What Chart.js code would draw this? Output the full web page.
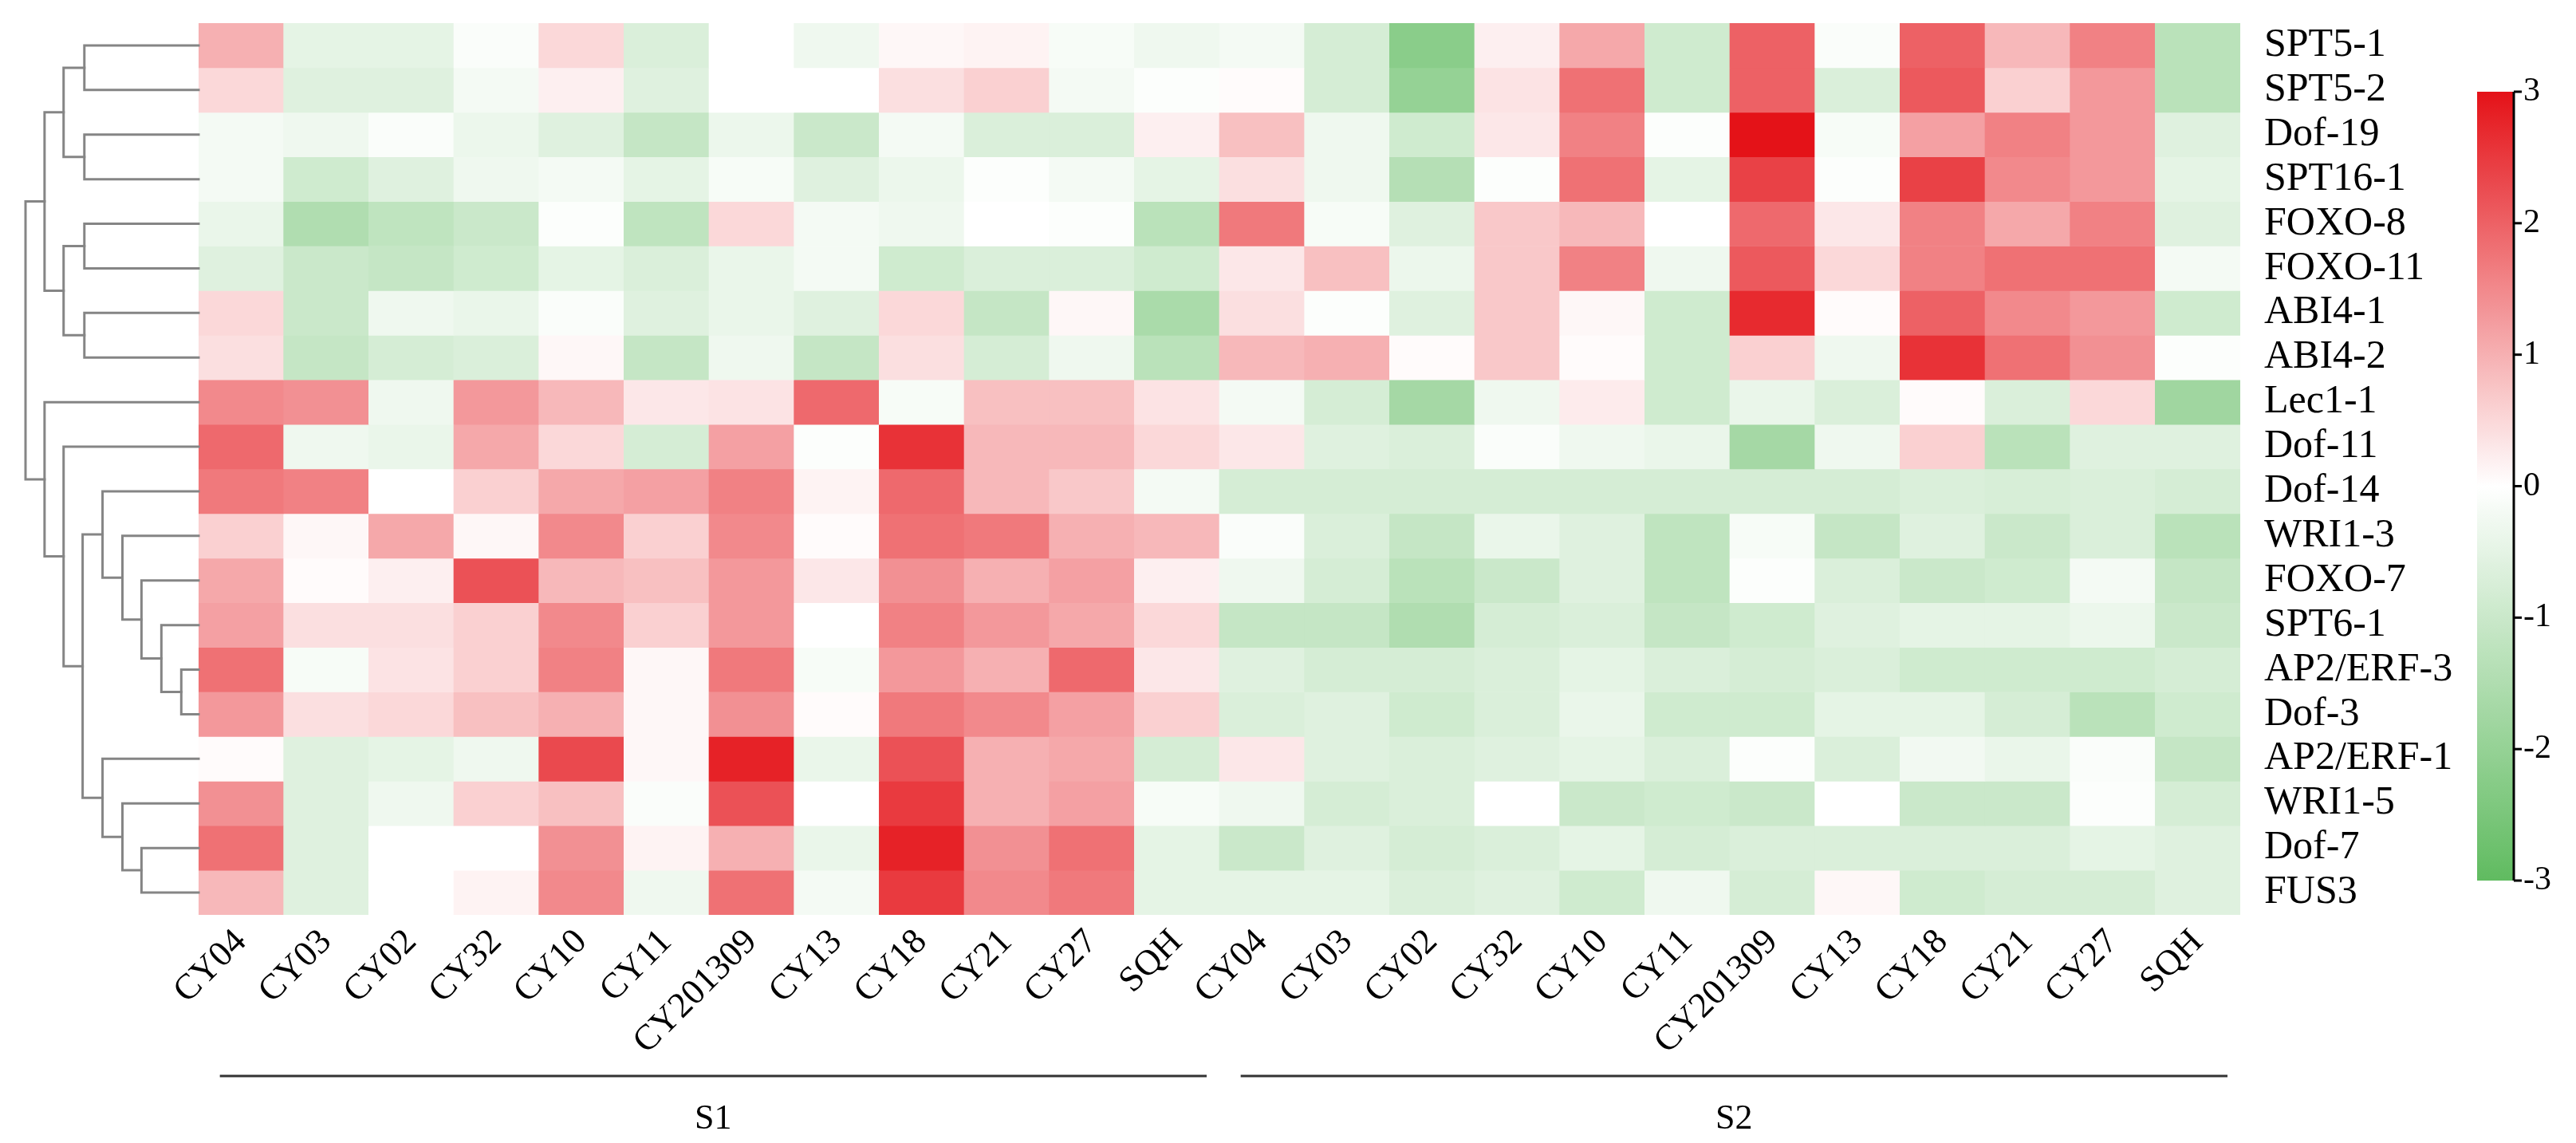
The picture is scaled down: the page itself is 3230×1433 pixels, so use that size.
<!doctype html>
<html>
<head>
	<title>Heatmap</title>
	<script src="https://cdn.jsdelivr.net/npm/chart.js@4.4.0/dist/chart.umd.min.js"></script>
	<style>
	html, body {
		margin: 0;
		padding: 0;
		background: #fff;
	}
	canvas {
		display: block;
	}
	</style>
</head>

<body>
	<canvas id="chart" width="3230" height="1433"></canvas>
	<script>
		var samples = ['CY04', 'CY03', 'CY02', 'CY32', 'CY10', 'CY11', 'CY201309', 'CY13', 'CY18', 'CY21', 'CY27', 'SQH'];
		var stages = ['S1', 'S2'];
		var genes = ['SPT5-1', 'SPT5-2', 'Dof-19', 'SPT16-1', 'FOXO-8', 'FOXO-11', 'ABI4-1', 'ABI4-2', 'Lec1-1', 'Dof-11',
			'Dof-14', 'WRI1-3', 'FOXO-7', 'SPT6-1', 'AP2/ERF-3', 'Dof-3', 'AP2/ERF-1', 'WRI1-5', 'Dof-7', 'FUS3'];

		// one row per gene: 12 S1 samples then 12 S2 samples
		var values = [
			[1.0, -0.5, -0.5, -0.1, 0.5, -0.7, 0, -0.3, 0.1, 0.15, -0.15, -0.3, -0.2, -0.8, -2.2, 0.2, 1.1, -0.9, 2.0, -0.1, 2.0, 0.9, 1.6, -1.3],
			[0.5, -0.6, -0.6, -0.2, 0.2, -0.6, 0, 0, 0.4, 0.6, -0.2, -0.05, 0.05, -0.8, -2.0, 0.35, 1.8, -0.9, 2.0, -0.7, 2.1, 0.6, 1.3, -1.3],
			[-0.2, -0.3, -0.1, -0.35, -0.6, -1.1, -0.35, -1.0, -0.2, -0.7, -0.7, 0.2, 0.8, -0.3, -0.9, 0.3, 1.6, -0.05, 3.0, -0.15, 1.2, 1.6, 1.3, -0.6],
			[-0.2, -0.9, -0.6, -0.3, -0.2, -0.5, -0.15, -0.6, -0.35, -0.05, -0.2, -0.5, 0.4, -0.3, -1.4, -0.05, 1.8, -0.5, 2.4, -0.05, 2.4, 1.5, 1.3, -0.5],
			[-0.4, -1.5, -1.2, -1.0, -0.05, -1.2, 0.5, -0.2, -0.3, 0, -0.05, -1.3, 1.7, -0.15, -0.6, 0.7, 0.9, 0, 1.9, 0.3, 1.6, 1.1, 1.6, -0.6],
			[-0.6, -1.0, -1.1, -0.9, -0.5, -0.7, -0.4, -0.2, -0.9, -0.7, -0.7, -0.9, 0.3, 0.8, -0.35, 0.7, 1.6, -0.3, 2.1, 0.5, 1.6, 1.8, 1.8, -0.2],
			[0.5, -1.0, -0.3, -0.4, -0.1, -0.6, -0.4, -0.6, 0.5, -1.1, 0.1, -1.6, 0.4, -0.05, -0.6, 0.7, 0.1, -0.9, 2.7, 0.05, 2.0, 1.5, 1.3, -0.9],
			[0.4, -1.1, -0.8, -0.7, 0.1, -1.1, -0.3, -1.1, 0.4, -0.8, -0.3, -1.3, 0.9, 1.0, 0.05, 0.7, 0.05, -0.9, 0.6, -0.3, 2.6, 1.8, 1.4, -0.05],
			[1.5, 1.4, -0.3, 1.3, 0.9, 0.3, 0.35, 1.9, -0.15, 0.8, 0.8, 0.35, -0.2, -0.8, -1.7, -0.3, 0.25, -0.9, -0.4, -0.7, 0.05, -0.7, 0.5, -1.8],
			[1.9, -0.3, -0.4, 1.1, 0.5, -0.8, 1.2, -0.05, 2.6, 0.9, 0.9, 0.5, 0.3, -0.6, -0.7, -0.1, -0.3, -0.4, -1.7, -0.3, 0.6, -1.3, -0.6, -0.6],
			[1.7, 1.6, 0, 0.6, 1.1, 1.2, 1.6, 0.15, 1.9, 0.9, 0.7, -0.2, -0.8, -0.8, -0.8, -0.8, -0.8, -0.8, -0.8, -0.8, -0.7, -0.75, -0.7, -0.8],
			[0.6, 0.1, 1.1, 0.1, 1.5, 0.6, 1.5, 0.05, 1.8, 1.7, 1.0, 0.9, -0.1, -0.7, -1.1, -0.4, -0.6, -1.2, -0.15, -1.1, -0.6, -1.0, -0.7, -1.3],
			[1.1, 0.05, 0.2, 2.2, 0.9, 0.8, 1.3, 0.3, 1.4, 1.0, 1.2, 0.2, -0.3, -0.8, -1.3, -1.0, -0.6, -1.2, -0.05, -0.7, -1.0, -0.9, -0.2, -1.1],
			[1.2, 0.4, 0.4, 0.6, 1.5, 0.6, 1.3, 0, 1.6, 1.3, 1.1, 0.5, -1.1, -1.1, -1.5, -0.8, -0.7, -1.1, -0.9, -0.6, -0.5, -0.5, -0.35, -1.0],
			[1.8, -0.15, 0.35, 0.6, 1.6, 0.1, 1.7, -0.15, 1.3, 1.0, 1.9, 0.3, -0.6, -0.8, -0.8, -0.7, -0.5, -0.7, -0.8, -0.7, -0.9, -0.9, -0.9, -0.8],
			[1.3, 0.4, 0.5, 0.8, 1.0, 0.1, 1.4, 0.05, 1.7, 1.5, 1.2, 0.6, -0.7, -0.6, -0.9, -0.7, -0.4, -0.9, -0.9, -0.5, -0.5, -0.8, -1.3, -0.9],
			[0.05, -0.6, -0.5, -0.3, 2.3, 0.1, 2.8, -0.4, 2.2, 1.0, 1.1, -0.8, 0.3, -0.6, -0.7, -0.6, -0.5, -0.7, -0.05, -0.7, -0.25, -0.4, -0.1, -1.1],
			[1.4, -0.6, -0.3, 0.6, 0.8, -0.1, 2.2, 0, 2.5, 1.0, 1.2, -0.15, -0.3, -0.8, -0.7, 0, -1.0, -0.9, -1.0, 0, -1.0, -1.0, -0.05, -0.8],
			[1.8, -0.6, 0, 0, 1.4, 0.15, 1.0, -0.4, 2.8, 1.4, 1.8, -0.5, -1.0, -0.6, -0.8, -0.7, -0.5, -0.8, -0.7, -0.7, -0.7, -0.7, -0.5, -0.6],
			[0.9, -0.6, 0, 0.15, 1.5, -0.3, 1.8, -0.2, 2.5, 1.5, 1.7, -0.5, -0.5, -0.5, -0.7, -0.6, -0.9, -0.3, -0.8, 0.1, -0.9, -0.8, -0.8, -0.6]
		];

		var colorTicks = [3, 2, 1, 0, -1, -2, -3];

		// row clustering, linkage style: ids < 20 are genes, id 20 + k is merge k
		var dendroMerges = [
			[0, 1, 0.66], [2, 3, 0.66], [20, 21, 0.78],
			[4, 5, 0.66], [6, 7, 0.66], [23, 24, 0.78],
			[22, 25, 0.89],
			[14, 15, 0.10], [13, 27, 0.215], [12, 28, 0.33], [11, 29, 0.44], [10, 30, 0.555],
			[18, 19, 0.33], [17, 32, 0.44], [16, 33, 0.555],
			[31, 34, 0.67], [9, 35, 0.78], [8, 36, 0.89],
			[26, 37, 1.0]
		];

		var serif = "'Liberation Serif', 'Times New Roman', serif";
		var red = [228, 18, 24];
		var green = [96, 187, 96];

		function valueColor(v) {
			var t = Math.min(Math.abs(v) / 3, 1);
			var end = v >= 0 ? red : green;
			var c = end.map(function(e) {
				return Math.round(255 + (e - 255) * t);
			});
			return 'rgb(' + c.join(',') + ')';
		}

		var columns = samples.concat(samples);

		var datasets = genes.map(function(gene, i) {
			return {
				label: gene,
				data: columns.map(function() { return 1; }),
				backgroundColor: values[i].map(valueColor),
				borderWidth: 0,
				barPercentage: 1,
				categoryPercentage: 1,
				yAxisID: 'y'
			};
		});

		var dendrogram = {
			id: 'dendrogram',
			afterDraw: function(chart) {
				var ctx = chart.ctx;
				var rows = chart.scales.rows;
				var xLeaf = chart.chartArea.left;
				var unit = (xLeaf - 32) / 1.0;
				var nodes = genes.map(function(g, i) {
					return { x: xLeaf, y: rows.getPixelForTick(i) };
				});
				ctx.save();
				ctx.strokeStyle = '#858585';
				ctx.lineWidth = 3;
				ctx.lineCap = 'square';
				dendroMerges.forEach(function(m) {
					var a = nodes[m[0]], b = nodes[m[1]];
					var x = xLeaf - m[2] * unit;
					ctx.beginPath();
					ctx.moveTo(a.x, a.y);
					ctx.lineTo(x, a.y);
					ctx.lineTo(x, b.y);
					ctx.lineTo(b.x, b.y);
					ctx.stroke();
					nodes.push({ x: x, y: (a.y + b.y) / 2 });
				});
				ctx.restore();
			}
		};

		var stageBrackets = {
			id: 'stageBrackets',
			afterDraw: function(chart) {
				var ctx = chart.ctx;
				var xs = chart.scales.x;
				var colW = xs.getPixelForTick(1) - xs.getPixelForTick(0);
				ctx.save();
				ctx.strokeStyle = '#333';
				ctx.lineWidth = 3;
				ctx.fillStyle = '#000';
				ctx.font = '44px ' + serif;
				ctx.textAlign = 'center';
				ctx.textBaseline = 'middle';
				stages.forEach(function(stage, s) {
					var first = s * samples.length;
					var last = first + samples.length - 1;
					var x0 = xs.getPixelForTick(first) - colW * 0.25;
					var x1 = xs.getPixelForTick(last) + colW * 0.35;
					ctx.beginPath();
					ctx.moveTo(x0, 1349);
					ctx.lineTo(x1, 1349);
					ctx.stroke();
					ctx.fillText(stage, (x0 + x1) / 2, 1403);
				});
				ctx.restore();
			}
		};

		var colorBar = {
			id: 'colorBar',
			afterDraw: function(chart) {
				var ctx = chart.ctx;
				var left = 3106, width = 46, top = 115, bottom = 1104;
				var vmax = colorTicks[0], vmin = colorTicks[colorTicks.length - 1];
				function yFor(v) {
					return top + (vmax - v) / (vmax - vmin) * (bottom - top);
				}
				var grad = ctx.createLinearGradient(0, top, 0, bottom);
				for (var k = 0; k <= 60; k++) {
					var v = vmax - (vmax - vmin) * k / 60;
					grad.addColorStop(k / 60, valueColor(v));
				}
				ctx.save();
				ctx.fillStyle = grad;
				ctx.fillRect(left, top, width, bottom - top);
				ctx.strokeStyle = '#000';
				ctx.lineWidth = 3;
				ctx.beginPath();
				ctx.moveTo(left + width, top);
				ctx.lineTo(left + width, bottom);
				ctx.stroke();
				ctx.fillStyle = '#000';
				ctx.font = '42px ' + serif;
				ctx.textAlign = 'left';
				ctx.textBaseline = 'middle';
				colorTicks.forEach(function(t) {
					var y = yFor(t);
					ctx.beginPath();
					ctx.moveTo(left + width, y);
					ctx.lineTo(left + width + 10, y);
					ctx.stroke();
					ctx.fillText(String(t), left + width + 12, y);
				});
				ctx.restore();
			}
		};

		var ctx = document.getElementById('chart').getContext('2d');
		new Chart(ctx, {
			type: 'bar',
			data: {
				labels: columns,
				datasets: datasets
			},
			options: {
				responsive: false,
				animation: false,
				layout: {
					padding: { left: 249, top: 29, right: 0, bottom: 0 }
				},
				plugins: {
					legend: { display: false },
					tooltip: { enabled: false }
				},
				scales: {
					x: {
						stacked: true,
						grid: { display: false, drawTicks: false },
						border: { display: false },
						ticks: {
							autoSkip: false,
							minRotation: 45,
							maxRotation: 45,
							padding: 8,
							color: '#000',
							font: { family: serif, size: 45 }
						},
						afterFit: function(scale) {
							scale.height = 286;
							scale.paddingLeft = 0;
							scale.paddingRight = 0;
						}
					},
					y: {
						stacked: true,
						min: 0,
						max: genes.length,
						reverse: true,
						display: false
					},
					rows: {
						type: 'category',
						labels: genes,
						position: 'right',
						offset: true,
						grid: { display: false, drawTicks: false },
						border: { display: false },
						ticks: {
							autoSkip: false,
							padding: 30,
							color: '#000',
							font: { family: serif, size: 50 }
						},
						afterFit: function(scale) {
							scale.width = 421;
							scale.paddingTop = 0;
							scale.paddingBottom = 0;
						}
					}
				}
			},
			plugins: [dendrogram, stageBrackets, colorBar]
		});
	</script>
</body>

</html>
